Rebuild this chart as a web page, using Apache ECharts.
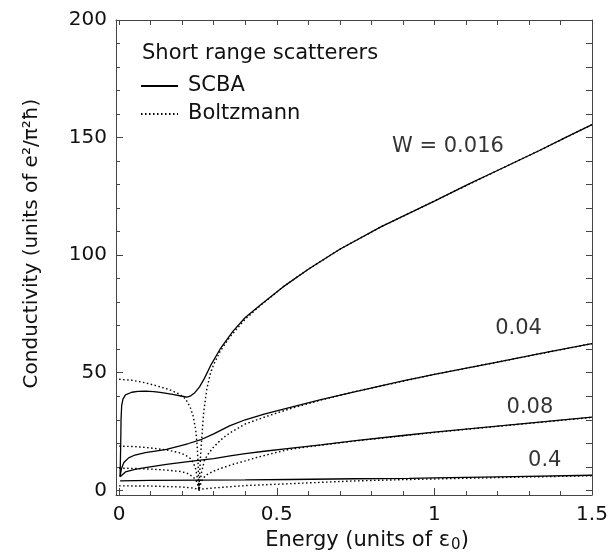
<!DOCTYPE html>
<html>
<head>
<meta charset="utf-8">
<script src="https://cdn.jsdelivr.net/npm/echarts@6/dist/echarts.min.js"></script>
<style>
  html, body { margin: 0; padding: 0; background: #fff; }
  #chart { width: 615px; height: 556px; }
</style>
</head>
<body>
<div id="chart"></div>
<script>
// axis ticks
var xMajor = [0, 0.5, 1, 1.5];
var xMinor = [0.1, 0.2, 0.3, 0.4, 0.6, 0.7, 0.8, 0.9, 1.1, 1.2, 1.3, 1.4];
var yMajor = [0, 50, 100, 150, 200];
var yMinor = [10, 20, 30, 40, 60, 70, 80, 90, 110, 120, 130, 140, 160, 170, 180, 190];

// SCBA (solid) curves, [energy, conductivity]
var scba016 = [[0.003,5.8],[0.004,6.5],[0.005,20],[0.006,30],[0.008,36],[0.012,38.8],[0.02,40.6],[0.04,41.7],[0.06,42.1],[0.083,42.2],[0.11,42.0],[0.13,41.6],[0.17,40.8],[0.20,40.0],[0.215,39.6],[0.225,40.0],[0.24,41.5],[0.255,44.0],[0.27,47.5],[0.29,53],[0.32,60],[0.36,67.5],[0.40,73.5],[0.45,79],[0.52,86.5],[0.60,94],[0.70,102.5],[0.83,112],[1.0,123],[1.11,130.3],[1.2,136],[1.33,144.3],[1.42,150.3],[1.5,155.5]];
var scba04 = [[0.003,5.8],[0.005,7.5],[0.008,9.5],[0.015,11.8],[0.03,13.8],[0.05,15],[0.083,16],[0.12,16.8],[0.15,17.4],[0.19,18.8],[0.22,19.9],[0.257,21.4],[0.30,24],[0.35,27.4],[0.40,30],[0.46,32.4],[0.54,35.2],[0.64,38.6],[0.75,42],[0.9,46.5],[1.0,49.3],[1.2,54.5],[1.35,58.5],[1.5,62.4]];
var scba08 = [[0.003,5.8],[0.006,6.6],[0.02,7.8],[0.05,8.9],[0.083,9.6],[0.15,11],[0.2,11.9],[0.257,12.8],[0.30,13.5],[0.352,14.6],[0.40,15.6],[0.46,16.6],[0.54,17.8],[0.64,19.3],[0.75,21.1],[0.9,23.3],[1.0,24.7],[1.2,27.3],[1.35,29.2],[1.5,31.1]];
var scba4 = [[0.003,4.0],[0.1,4.2],[0.25,4.3],[0.4,4.4],[0.54,4.6],[0.75,4.9],[0.92,5.1],[1.0,5.3],[1.25,5.8],[1.5,6.4]];

// Boltzmann (dotted) curves
var boltz016 = [[0,47.2],[0.04,46.8],[0.08,45.8],[0.12,44.4],[0.16,42.8],[0.19,41],[0.21,39],[0.225,35.5],[0.235,31.5],[0.243,25.5],[0.248,18],[0.251,9],[0.253,0],[0.255,6],[0.258,14],[0.262,22],[0.268,33],[0.278,43],[0.29,50],[0.30,53.5],[0.32,59],[0.35,65],[0.40,72.8],[0.45,78.8],[0.52,86.5],[0.60,94],[0.70,102.5],[0.83,112],[1.0,123],[1.2,136],[1.33,144.3],[1.5,155.5]];
var boltz04 = [[0,18.8],[0.05,18.6],[0.1,18.0],[0.15,17.2],[0.19,16.0],[0.21,15.0],[0.225,13.6],[0.235,11.8],[0.243,9],[0.249,4.5],[0.253,0],[0.256,3.5],[0.262,8],[0.27,12.5],[0.28,15],[0.30,18.5],[0.33,22.3],[0.352,24.5],[0.40,28.2],[0.458,31],[0.54,34.6],[0.64,38.4],[0.75,42],[1.0,49.3],[1.2,54.5],[1.5,62.4]];
var boltz08 = [[0,9.4],[0.05,9.3],[0.1,9.0],[0.15,8.6],[0.194,8.0],[0.215,7.3],[0.236,5.6],[0.245,3.8],[0.25,2],[0.253,0],[0.256,1.6],[0.262,4],[0.27,5.6],[0.28,6.8],[0.30,8.2],[0.32,9.2],[0.36,11],[0.40,12.5],[0.437,14],[0.49,15.8],[0.54,17.4],[0.64,19.2],[0.75,21],[1.0,24.6],[1.2,27.2],[1.5,31]];
var boltz4 = [[0,1.9],[0.1,1.8],[0.2,1.4],[0.24,0.9],[0.253,0],[0.26,0.5],[0.3,1.0],[0.4,2.0],[0.574,3.0],[0.75,4.0],[0.92,4.6],[1.2,5.4],[1.5,6.2]];

// curve labels
var curveLabelText = ['W = 0.016', '0.04', '0.08', '0.4'];
var curveLabelE = [1.043, 1.267, 1.303, 1.35];
var curveLabelSigma = [146.2, 68.7, 35.2, 12.6];

var FONT = 'DejaVu Sans';
var axisColor = '#444';

function frameAxis(pos, extra) {
  var ax = {
    type: 'value',
    position: pos,
    axisLine: { show: false, onZero: false, lineStyle: { color: axisColor, width: 1 } },
    axisTick: { show: true, inside: true, length: 4, lineStyle: { color: axisColor, width: 1 } },
    axisLabel: { show: false },
    splitLine: { show: false }
  };
  return Object.assign(ax, extra);
}

var xRange = { min: -0.01, max: 1.5 };
var yRange = { min: -2, max: 200 };

var chart = echarts.init(document.getElementById('chart'));

var series = [];
function addLine(name, data, dotted) {
  series.push({
    name: name,
    type: 'line',
    data: data,
    xAxisIndex: 0,
    yAxisIndex: 0,
    symbol: 'none',
    showSymbol: false,
    smooth: false,
    silent: true,
    lineStyle: dotted
      ? { color: '#000', width: 1.4, type: [1.5, 2.5] }
      : { color: '#000', width: 1.3 },
    itemStyle: { color: '#000' }
  });
}
addLine('SCBA', scba016, false);
addLine('SCBA', scba04, false);
addLine('SCBA', scba08, false);
addLine('SCBA', scba4, false);
addLine('Boltzmann', boltz016, true);
addLine('Boltzmann', boltz04, true);
addLine('Boltzmann', boltz08, true);
addLine('Boltzmann', boltz4, true);

series.push({
  type: 'scatter',
  xAxisIndex: 0,
  yAxisIndex: 0,
  symbolSize: 0,
  silent: true,
  data: curveLabelText.map(function (t, i) { return [curveLabelE[i], curveLabelSigma[i], t]; }),
  label: {
    show: true,
    position: 'inside',
    formatter: function (p) { return p.value[2]; },
    fontFamily: FONT,
    fontSize: 21,
    color: '#000'
  }
});

var option = {
  animation: false,
  backgroundColor: '#fff',
  textStyle: { fontFamily: FONT },
  title: {
    text: 'Short range scatterers',
    left: 137,
    top: 38,
    textStyle: { fontFamily: FONT, fontSize: 21, fontWeight: 'normal', color: '#111' }
  },
  legend: {
    data: ['SCBA', 'Boltzmann'],
    orient: 'vertical',
    left: 135,
    top: 70,
    itemWidth: 37,
    itemHeight: 14,
    itemGap: 6,
    selectedMode: false,
    itemStyle: { opacity: 0 },
    textStyle: { fontFamily: FONT, fontSize: 21, color: '#111', lineHeight: 22, padding: [0, 0, 0, 5] }
  },
  grid: {
    left: 116,
    right: 23,
    top: 20,
    bottom: 61,
    containLabel: false,
    outerBoundsMode: 'none'
  },
  xAxis: [
    frameAxis('bottom', Object.assign({}, xRange, {
      axisLine: { show: true, onZero: false, lineStyle: { color: axisColor, width: 1 } },
      axisTick: { show: true, inside: true, length: 7, customValues: xMajor, lineStyle: { color: axisColor } },
      axisLabel: { show: true, customValues: xMajor, margin: 10, fontFamily: FONT, fontSize: 20, color: '#111' },
      name: 'Energy (units of {e|ε}{s|0})',
      nameLocation: 'middle',
      nameGap: 32,
      nameTextStyle: {
        fontFamily: FONT, fontSize: 21, color: '#111', padding: [0, 0, 0, 26],
        rich: {
          e: { fontFamily: FONT, fontSize: 21, color: '#111' },
          s: { fontFamily: FONT, fontSize: 15, color: '#111', padding: [10, 0, 0, 1] }
        }
      }
    })),
    frameAxis('bottom', Object.assign({}, xRange, {
      axisTick: { show: true, inside: true, length: 4, customValues: xMinor, lineStyle: { color: axisColor } }
    })),
    frameAxis('top', Object.assign({}, xRange, {
      axisLine: { show: true, onZero: false, lineStyle: { color: axisColor, width: 1 } },
      axisTick: { show: true, inside: true, length: 5, customValues: xMajor.concat(xMinor), lineStyle: { color: axisColor } }
    }))
  ],
  yAxis: [
    frameAxis('left', Object.assign({}, yRange, {
      axisLine: { show: true, onZero: false, lineStyle: { color: axisColor, width: 1 } },
      axisTick: { show: true, inside: true, length: 7, customValues: yMajor, lineStyle: { color: axisColor } },
      axisLabel: { show: true, customValues: yMajor, margin: 9, fontFamily: FONT, fontSize: 20, color: '#111' },
      name: 'Conductivity (units of e²/π²ħ)',
      nameLocation: 'middle',
      nameRotate: 90,
      nameGap: 74,
      nameTextStyle: { fontFamily: FONT, fontSize: 20, color: '#111', padding: [0, 0, 0, 28] }
    })),
    frameAxis('left', Object.assign({}, yRange, {
      axisTick: { show: true, inside: true, length: 4, customValues: yMinor, lineStyle: { color: axisColor } }
    })),
    frameAxis('right', Object.assign({}, yRange, {
      axisLine: { show: true, onZero: false, lineStyle: { color: axisColor, width: 1 } },
      axisTick: { show: true, inside: true, length: 6, customValues: yMajor.concat(yMinor), lineStyle: { color: axisColor } }
    }))
  ],
  series: series
};

chart.setOption(option);
</script>
</body>
</html>
